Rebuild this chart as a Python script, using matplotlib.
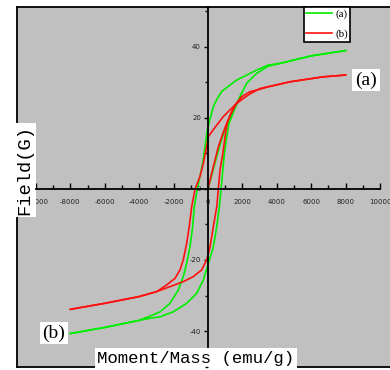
import matplotlib
matplotlib.use("Agg")
import matplotlib.pyplot as plt
from matplotlib.ticker import MultipleLocator, FixedLocator, FixedFormatter

plt.rcParams['axes.unicode_minus'] = False

# sample (a), green: descending branch, ascending branch, initial curve
a_desc_x = [8000, 6000, 4200, 3500, 2830, 2250, 1670, 1280, 800, 500, 310, 160, 80, -40, -170, -310,
            -470, -620, -800, -890, -1050, -1240, -1440, -1730, -2210, -2790, -3370, -4000, -6000, -8000]
a_desc_y = [39.0, 37.5, 35.4, 34.9, 33.5, 32.1, 30.7, 29.3, 27.5, 25.1, 23.2, 20.4, 19.0, 16.6, 11.9, 7.2,
            3.5, 0.0, -5.0, -10.6, -16.3, -20.9, -24.7, -28.5, -32.2, -34.6, -35.8, -37.0, -39.0, -40.7]
a_asc_x = [-8000, -6000, -4000, -3370, -2790, -2020, -1240, -660, -270, 80, 310, 510, 660, 760, 860,
           950, 1090, 1220, 1380, 1670, 1960, 2250, 2830, 3500, 4200, 6000, 8000]
a_asc_y = [-40.7, -39.0, -37.0, -36.4, -36.0, -34.6, -32.2, -29.4, -25.6, -20.0, -16.3, -10.6, -5.0, 0.0, 5.4,
           10.0, 14.7, 18.5, 20.4, 24.1, 27.0, 29.8, 32.6, 34.6, 35.4, 37.5, 39.0]
a_init_x = [0, 250, 500, 750, 1000, 1300, 1670, 1960]
a_init_y = [0.0, 4.5, 9.0, 13.3, 17.0, 20.5, 23.8, 27.0]

# sample (b), red
b_desc_x = [8000, 6700, 4770, 3500, 3020, 2440, 2050, 1670, 1280, 890, 510, 215, 20, -80, -270, -470,
            -750, -950, -1090, -1240, -1440, -1630, -1920, -2400, -2980, -4000, -6000, -8000]
b_desc_y = [32.1, 31.6, 30.2, 28.8, 28.3, 26.8, 25.5, 24.1, 22.3, 20.4, 18.0, 16.1, 14.7, 11.9, 7.2, 3.5,
            0.0, -5.0, -10.6, -15.3, -20.0, -22.8, -25.2, -27.0, -28.9, -30.3, -32.2, -33.9]
b_asc_x = [-8000, -6000, -4000, -2980, -2210, -1440, -860, -370, -80, 120, 310, 510, 600, 700, 860,
           990, 1120, 1280, 1570, 1960, 2440, 3020, 3500, 4770, 6700, 8000]
b_asc_y = [-33.9, -32.2, -30.3, -28.9, -27.5, -26.1, -24.7, -22.8, -20.0, -16.3, -10.6, -5.0, 0.0, 5.4, 10.0,
           14.7, 18.5, 20.8, 23.7, 26.0, 27.4, 28.1, 28.8, 30.2, 31.6, 32.1]
b_init_x = [0, 215, 410, 600, 850, 1150, 1570, 1960]
b_init_y = [0.0, 4.4, 8.2, 11.9, 15.5, 19.3, 23.4, 26.0]

x_ticks = [-10000, -8000, -6000, -4000, -2000, 0, 2000, 4000, 6000, 8000, 10000]
x_tick_labels = ['-10000', '-8000', '-6000', '-4000', '-2000', '0', '2000', '4000', '6000', '8000', '10000']
y_ticks = [-40, -20, 0, 20, 40]
y_tick_labels = ['-40', '-20', '0', '20', '40']

green = '#00ee00'
red = '#ff1010'
grey = '#c0c0c0'

W, H = 390, 370
fig = plt.figure(figsize=(W / 100, H / 100), dpi=100)

# axes rectangle in pixels (right edge runs off the picture)
left, top, right, bottom = 17, 7, 397, 367
rect = [left / W, (H - bottom) / H, (right - left) / W, (bottom - top) / H]

bg = fig.add_axes(rect)
bg.set_facecolor(grey)
bg.set_xticks([])
bg.set_yticks([])
for s in bg.spines.values():
    s.set_linewidth(1.3)
bg.spines['right'].set_visible(False)

ax = fig.add_axes(rect)
ax.set_facecolor('none')

# data -> pixel: x_px = 208 + x*0.0172, y_px = 189 - y*3.55
x0, sx = 208, 0.0172
y0, sy = 189, 3.55
ax.set_xlim((left - x0) / sx, (right - x0) / sx)
ax.set_ylim((y0 - bottom) / sy, (y0 - top) / sy)

lw = 1.2
la, = ax.plot(a_desc_x, a_desc_y, color=green, lw=lw, label='(a)')
ax.plot(a_asc_x, a_asc_y, color=green, lw=lw)
ax.plot(a_init_x, a_init_y, color=green, lw=lw)
lb, = ax.plot(b_desc_x, b_desc_y, color=red, lw=lw, label='(b)')
ax.plot(b_asc_x, b_asc_y, color=red, lw=lw)
ax.plot(b_init_x, b_init_y, color=red, lw=lw)

# axes crossing at the origin
ax.spines['top'].set_visible(False)
ax.spines['right'].set_visible(False)
ax.spines['left'].set_position(('data', 0))
ax.spines['bottom'].set_position(('data', 0))
ax.spines['bottom'].set_bounds(-10000, 10000)
ax.spines['left'].set_bounds((y0 - 347) / sy, (y0 - top) / sy)
for s in ('left', 'bottom'):
    ax.spines[s].set_linewidth(1.3)

ax.xaxis.set_major_locator(FixedLocator(x_ticks))
ax.xaxis.set_major_formatter(FixedFormatter(x_tick_labels))
ax.xaxis.set_minor_locator(MultipleLocator(1000))
ax.yaxis.set_major_locator(FixedLocator(y_ticks))
ax.yaxis.set_major_formatter(FixedFormatter(y_tick_labels))
ax.yaxis.set_minor_locator(MultipleLocator(10))

ax.tick_params(axis='x', which='major', direction='in', length=4, width=1, pad=7,
               labelsize=5, labelcolor='#222222')
ax.tick_params(axis='x', which='minor', direction='in', length=3, width=1)
ax.tick_params(axis='y', which='major', direction='out', length=3, width=1, pad=2,
               labelsize=5, labelcolor='#222222')
ax.tick_params(axis='y', which='minor', direction='out', length=2, width=1)

box = dict(facecolor='white', edgecolor='none', pad=1.5)
ax.set_xlabel('Moment/Mass (emu/g)', family='Liberation Mono', fontsize=12.5,
              va='center', bbox=box)
ax.xaxis.set_label_coords((196 - left) / (right - left), (bottom - 358) / (bottom - top))
ax.set_ylabel('Field(G)', family='Liberation Mono', fontsize=13.5,
              va='center', bbox=box)
ax.yaxis.set_label_coords((25 - left) / (right - left), (bottom - 170) / (bottom - top))

ax.text((366 - left) / (right - left), (bottom - 80) / (bottom - top), '(a)',
        transform=ax.transAxes, family='Liberation Serif', fontsize=14,
        ha='center', va='center', bbox=dict(facecolor='white', edgecolor='none', pad=2))
ax.text((54 - left) / (right - left), (bottom - 333) / (bottom - top), '(b)',
        transform=ax.transAxes, family='Liberation Serif', fontsize=14,
        ha='center', va='center', bbox=dict(facecolor='white', edgecolor='none', pad=2))

leg = ax.legend(handles=[la, lb], loc='upper left',
                bbox_to_anchor=(304 / W, (H - 7) / H), bbox_transform=fig.transFigure,
                borderaxespad=0, fancybox=False, framealpha=1, edgecolor='black',
                prop={'family': 'Liberation Serif', 'size': 8},
                handlelength=2.3, handletextpad=0.3, borderpad=0.2, labelspacing=0.9)
leg.get_frame().set_linewidth(1.2)

fig.savefig('out.png', dpi=100)
